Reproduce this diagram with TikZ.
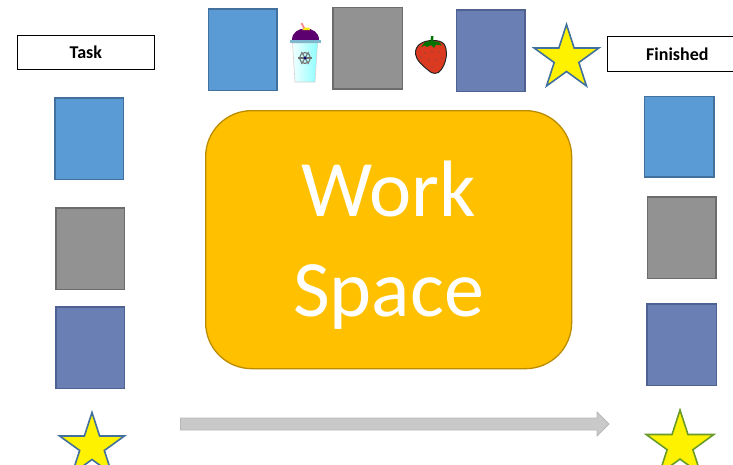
\documentclass[tikz,border=0pt]{standalone}
\usepackage{fontspec}
\setmainfont{Carlito}
\usetikzlibrary{shapes.geometric}
\definecolor{bluef}{HTML}{5B9BD5}\definecolor{blued}{HTML}{41719C}
\definecolor{grayf}{HTML}{929292}\definecolor{grayd}{HTML}{6C6C6C}
\definecolor{purpf}{HTML}{6A7FB4}\definecolor{purpd}{HTML}{4E6190}
\definecolor{gold}{HTML}{FFC000}\definecolor{goldd}{HTML}{BC8C00}
\definecolor{stargreen}{HTML}{6A9A2A}
\definecolor{berry}{HTML}{DC3A20}
\tikzset{
 x=1pt,y=-1pt,
 tilesize/.style 2 args={minimum width=#1pt,minimum height=#2pt},
 bluetile/.style={draw=blued,fill=bluef,line width=1.5pt,inner sep=0pt,anchor=north west},
 graytile/.style={draw=grayd,fill=grayf,line width=1.5pt,inner sep=0pt,anchor=north west},
 purptile/.style={draw=purpd,fill=purpf,line width=1.5pt,inner sep=0pt,anchor=north west},
 label box/.style={draw=black,line width=1.7pt,fill=white,inner sep=0pt,font=\bfseries\fontsize{18}{20}\selectfont,anchor=north west},
 starshape/.style={star,star points=5,star point ratio=2.618,fill=yellow,inner sep=0pt,line width=1.6pt,minimum size=#1},
}
\begin{document}
\begin{tikzpicture}
\useasboundingbox (0,0) rectangle (733,464);
\clip (0,0) rectangle (733,464);
% top row
\node[bluetile,tilesize={68.5}{81.5}] (t1) at (207.5,8) {};
\node[graytile,tilesize={69.5}{81.5}] (t2) at (332,6.5) {};
\node[purptile,tilesize={68.5}{81.5}] (t3) at (455.5,9) {};
\node[starshape=68pt,draw=blued] (t4) at (566.5,58.5) {};
% left column
\node[bluetile,tilesize={68.5}{81.5}] (l1) at (54,97) {};
\node[graytile,tilesize={68.5}{81.5}] (l2) at (55,207) {};
\node[purptile,tilesize={68.5}{81.5}] (l3) at (55,306) {};
\node[starshape=68pt,draw=blued] (l4) at (92,446.5) {};
% right column
\node[bluetile,tilesize={69.5}{80.5}] (r1) at (643.5,95.5) {};
\node[graytile,tilesize={68.5}{81.5}] (r2) at (646.5,196) {};
\node[purptile,tilesize={69.5}{81.5}] (r3) at (646,303) {};
\node[starshape=71pt,draw=stargreen] (r4) at (680,445.5) {};
% headers
\node[label box,minimum width=137pt,minimum height=34pt] (task) at (16.5,34.5) {Task};
\node[label box,minimum width=140pt,minimum height=35pt] (fin) at (606.5,35.5) {Finished};
% work space
\node[draw=goldd,fill=gold,line width=1.3pt,rounded corners=46pt,anchor=north west,minimum width=366pt,minimum height=258pt,inner sep=0pt] (ws) at (205,110) {};
\node[inner sep=0pt,align=center,text=white,font=\fontsize{80}{100}\selectfont] (wstext) at (388.5,245.5) {Work\\Space};
% arrow
\draw[draw=black!28,fill=black!21,line width=.8pt] (180.5,418) -- (597,418) -- (597,412) -- (609,424) -- (597,436) -- (597,430) -- (180.5,430) -- cycle;
% cup
\draw[red!45!white,line width=1.8pt] (301.5,23) -- (305,30);
\fill[purple!60!blue!80!black] (292,40) .. controls (292,32) and (299,28.5) .. (305.5,28.5) .. controls (312,28.5) and (319,32) .. (319,40) -- cycle;
\fill[yellow!90!orange] (302,30) -- (305,27.5) -- (309,27.5) -- (310,30) -- cycle;
\shade[left color=cyan!5,right color=cyan!45,draw=black!18,line width=.6pt] (292.5,43) -- (295,82) -- (315,82) -- (317.5,43) -- cycle;
\fill[black!32!cyan!60!white] (290,40) rectangle (320.5,43);
\begin{scope}[shift={(305,58)},draw=black!55,line width=1.1pt]
\draw (0,0) circle (5.5);
\foreach \a in {0,60,120} {\draw (\a:-7) -- (\a:7);}
\fill[blue!50!black] (0,0) circle (1.5);
\end{scope}
% strawberry
\draw[black!85,fill=berry,line width=1pt] (420,44) .. controls (426,39.5) and (440,39) .. (444,44) .. controls (448,50) and (447,62) .. (441,70) .. controls (438,74.5) and (432,74.5) .. (428,70) .. controls (423,66) and (416,60) .. (415.5,54) .. controls (415,50) and (417,46) .. (420,44) -- cycle;
\fill[green!45!black] (421,47) -- (425,42) -- (430.5,41) -- (431,36) -- (433.5,36) -- (433,41) -- (439,42) -- (442,45.5) -- (436,44.5) -- (434,48) -- (431,45) -- (427,47) -- (425,45.5) -- cycle;
\foreach \p in {(425,53),(432,52),(439,52),(429,60),(436,60),(432,67),(421,57),(442,58)} \fill[black!70] \p circle (.6);
\end{tikzpicture}
\end{document}
